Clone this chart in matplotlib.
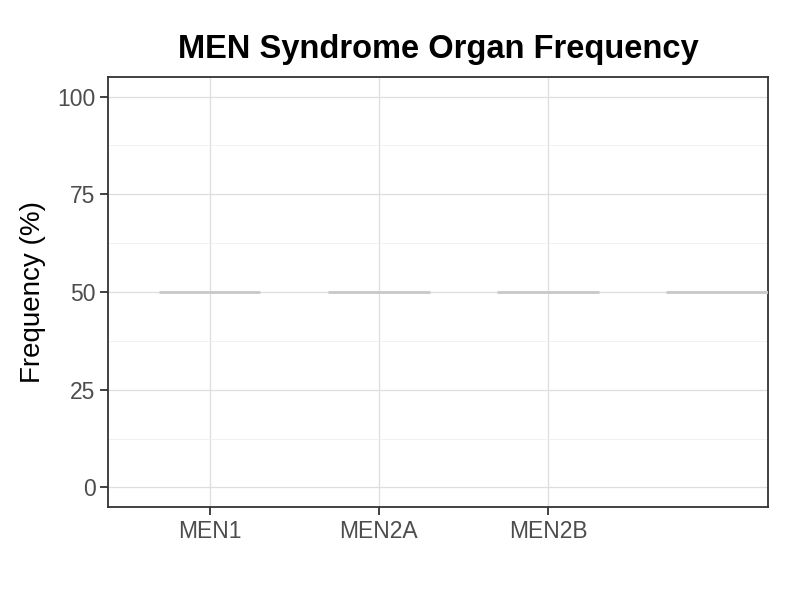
import matplotlib
matplotlib.use('Agg')
import matplotlib.pyplot as plt
from matplotlib.ticker import MultipleLocator

#data
syndromes=['MEN1','MEN2A','MEN2B','']
frequency=[50,50,50,50]
y_ticks=[0,25,50,75,100]

plt.rcParams['font.family']=['Liberation Sans','DejaVu Sans']

fig=plt.figure(figsize=(8,6),dpi=100)
ax=fig.add_axes([0.135,0.155,0.825,0.7167])

x_pos=list(range(1,len(syndromes)+1))

#gridlines
ax.set_axisbelow(True)
ax.yaxis.set_minor_locator(MultipleLocator(12.5))
ax.grid(which='major',color='#dedede',linewidth=0.9)
ax.grid(which='minor',axis='y',color='#efefef',linewidth=0.6)

#median segments (all at 50)
ax.hlines(frequency,[x-0.3 for x in x_pos],[x+0.3 for x in x_pos],
          colors='#c8c8c8',linewidth=2,zorder=3)

ax.set_xlim(0.4,4.3)
ax.set_ylim(-5,105)
ax.set_xticks(x_pos[:3])
ax.set_xticklabels(syndromes[:3])
ax.set_yticks(y_ticks)

for s in ax.spines.values():
    s.set_color('#333333')
    s.set_linewidth(1.3)

ax.tick_params(which='major',length=6,width=1.3,color='#333333',
               labelcolor='#4d4d4d',labelsize=16.5,pad=3)
ax.tick_params(which='minor',length=0)

ax.set_ylabel('Frequency (%)',fontsize=20,color='black',labelpad=8)
ax.set_title('MEN Syndrome Organ Frequency',fontsize=23.5,fontweight='bold',pad=14)

plt.savefig('out.png',dpi=100)
